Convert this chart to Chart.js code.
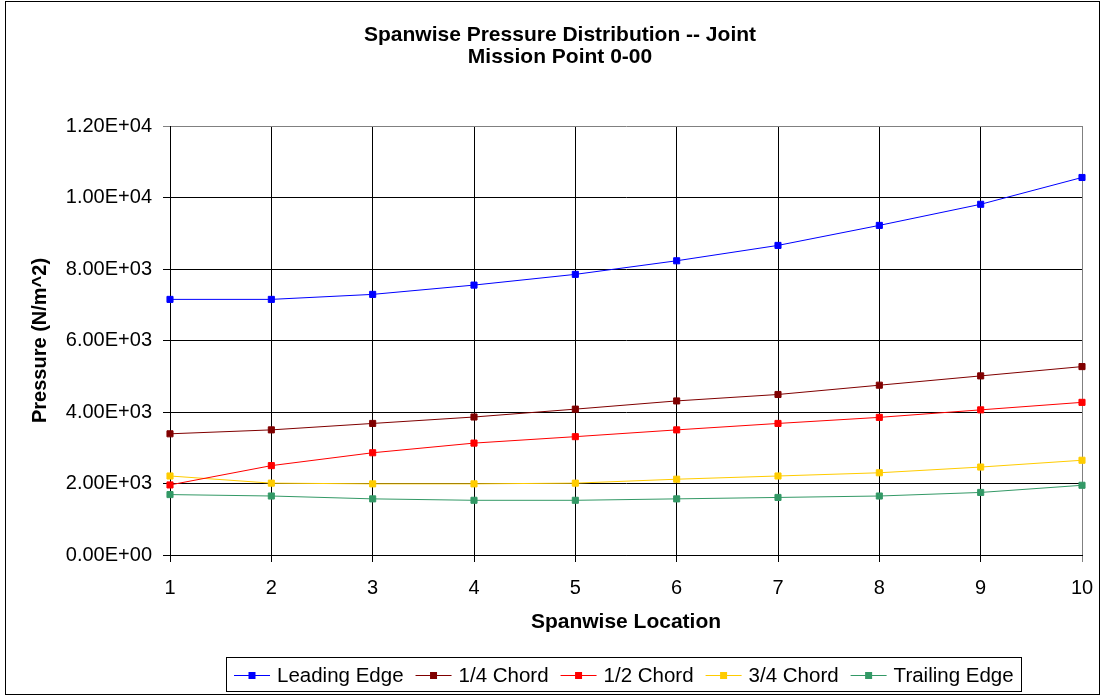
<!DOCTYPE html>
<html>
<head>
<meta charset="utf-8">
<title>Spanwise Pressure Distribution -- Joint</title>
<script src="https://cdn.jsdelivr.net/npm/chart.js@4.4.0/dist/chart.umd.min.js"></script>
<style>
    html, body { margin: 0; padding: 0; background: #fff; }
    canvas { display: block; }
</style>
</head>
<body>
<canvas id="pressureChart" width="1102" height="696"></canvas>
<script>
// spanwise stations (x axis)
var spanLocations = [1, 2, 3, 4, 5, 6, 7, 8, 9, 10];

// pressure in N/m^2
var leadingEdge   = [7150, 7150, 7290, 7550, 7850, 8230, 8660, 9220, 9810, 10560];
var quarterChord  = [3390, 3500, 3680, 3860, 4080, 4310, 4490, 4750, 5010, 5270];
var halfChord     = [1960, 2500, 2860, 3130, 3310, 3500, 3680, 3850, 4060, 4270];
var threeQtrChord = [2210, 2010, 1990, 1990, 2010, 2120, 2210, 2300, 2460, 2650];
var trailingEdge  = [1690, 1650, 1570, 1530, 1530, 1570, 1610, 1650, 1750, 1950];

var seriesNames  = ["Leading Edge", "1/4 Chord", "1/2 Chord", "3/4 Chord", "Trailing Edge"];
var seriesColors = ["#0000FF", "#800000", "#FF0000", "#FFCC00", "#339966"];

var yTickValues = [0, 2000, 4000, 6000, 8000, 10000, 12000];

var titleLines = ["Spanwise Pressure Distribution -- Joint", "Mission Point 0-00"];

var fontFamily = '"Liberation Sans", Arial, Helvetica, sans-serif';
Chart.defaults.font.family = fontFamily;
Chart.defaults.color = "#000";

// 12000 -> "1.20E+04"
function excelExp(value) {
    var parts = Number(value).toExponential(2).split("e");
    var sign = parts[1].charAt(0);
    var digits = parts[1].slice(1);
    if (digits.length < 2) digits = "0" + digits;
    return parts[0] + "E" + sign + digits;
}

function makeDataset(name, values, color) {
    return {
        label: name,
        data: values,
        borderColor: color,
        backgroundColor: color,
        borderWidth: 1,
        pointStyle: "rect",
        pointRadius: 4.3,
        pointBorderWidth: 1,
        pointBorderColor: color,
        pointBackgroundColor: color,
        tension: 0,
        fill: false
    };
}

// two line title, centred a bit right of the canvas middle like the original
var titlePlugin = {
    id: "twoLineTitle",
    afterDraw: function(chart) {
        var ctx = chart.ctx;
        ctx.save();
        ctx.font = "bold 21px " + fontFamily;
        ctx.fillStyle = "#000";
        ctx.textAlign = "center";
        ctx.textBaseline = "middle";
        ctx.fillText(titleLines[0], 560, 35);
        ctx.fillText(titleLines[1], 560, 57);
        ctx.restore();
    }
};

// legend in a box with line + marker samples
var boxLegendPlugin = {
    id: "boxLegend",
    afterDraw: function(chart) {
        var ctx = chart.ctx;
        var datasets = chart.data.datasets;
        var lineLen = 36, textGap = 7, itemGap = 12, padL = 8, padR = 7;
        ctx.save();
        ctx.font = "20.5px " + fontFamily;
        var widths = datasets.map(function(ds) { return ctx.measureText(ds.label).width; });
        var total = padL + padR;
        widths.forEach(function(w, i) {
            total += lineLen + textGap + w + (i < widths.length - 1 ? itemGap : 0);
        });
        var left = Math.round(623.5 - total / 2);
        var top = 657, bottom = 691, midY = 675;

        ctx.strokeStyle = "#000";
        ctx.lineWidth = 1;
        ctx.strokeRect(left + 0.5, top + 0.5, Math.round(total), bottom - top);

        var x = left + padL;
        datasets.forEach(function(ds, i) {
            ctx.strokeStyle = ds.borderColor;
            ctx.beginPath();
            ctx.moveTo(x, midY + 0.5);
            ctx.lineTo(x + lineLen, midY + 0.5);
            ctx.stroke();
            ctx.fillStyle = ds.borderColor;
            ctx.fillRect(x + lineLen / 2 - 3.5, midY - 3, 7, 7);
            ctx.fillStyle = "#000";
            ctx.textBaseline = "middle";
            ctx.textAlign = "left";
            ctx.fillText(ds.label, x + lineLen + textGap, midY + 1);
            x += lineLen + textGap + widths[i] + itemGap;
        });
        ctx.restore();
    }
};

var framePlugin = {
    id: "frame",
    beforeDraw: function(chart) {
        var ctx = chart.ctx;
        ctx.save();
        ctx.fillStyle = "#fff";
        ctx.fillRect(0, 0, chart.width, chart.height);
        ctx.restore();
    },
    afterDraw: function(chart) {
        var ctx = chart.ctx;
        ctx.save();
        ctx.strokeStyle = "#000";
        ctx.lineWidth = 1;
        ctx.strokeRect(5.5, 1.5, 1094, 693);
        ctx.restore();
    }
};

var chartData = {
    labels: spanLocations,
    datasets: [
        makeDataset(seriesNames[0], leadingEdge, seriesColors[0]),
        makeDataset(seriesNames[1], quarterChord, seriesColors[1]),
        makeDataset(seriesNames[2], halfChord, seriesColors[2]),
        makeDataset(seriesNames[3], threeQtrChord, seriesColors[3]),
        makeDataset(seriesNames[4], trailingEdge, seriesColors[4])
    ]
};

var chartOptions = {
    responsive: false,
    animation: false,
    layout: {
        padding: { top: 126, left: 0, right: 20, bottom: 51 }
    },
    plugins: {
        legend: { display: false },
        tooltip: { enabled: false },
        title: { display: false }
    },
    scales: {
        x: {
            type: "category",
            offset: false,
            afterFit: function(scale) {
                scale.height = 90;
                // the layout padding already leaves room for the "10" label
                scale.paddingLeft = 0;
                scale.paddingRight = 0;
            },
            grid: {
                color: function(c) { return c.index === spanLocations.length - 1 ? "#808080" : "#000"; },
                lineWidth: 1,
                drawTicks: true,
                tickLength: 7
            },
            border: { display: true, color: "#000", width: 1 },
            ticks: {
                color: "#000",
                font: { size: 20 },
                padding: 14,
                maxRotation: 0,
                autoSkip: false
            },
            title: {
                display: true,
                text: "Spanwise Location",
                color: "#000",
                font: { size: 21, weight: "bold" },
                padding: { top: 0, bottom: 10 }
            }
        },
        y: {
            min: 0,
            max: 12000,
            afterFit: function(scale) { scale.width = 170; },
            afterBuildTicks: function(scale) {
                scale.ticks = yTickValues.map(function(v) { return { value: v }; });
            },
            grid: {
                color: function(c) { return c.index === yTickValues.length - 1 ? "#808080" : "#000"; },
                lineWidth: 1,
                drawTicks: true,
                tickLength: 7
            },
            border: { display: true, color: "#000", width: 1 },
            ticks: {
                color: "#000",
                font: { size: 20 },
                padding: 11,
                callback: function(value) { return excelExp(value); }
            },
            title: {
                display: true,
                text: "Pressure (N/m^2)",
                color: "#000",
                font: { size: 20, weight: "bold" },
                padding: { top: 28, bottom: 0 }
            }
        }
    }
};

var pressureChart = new Chart(document.getElementById("pressureChart").getContext("2d"), {
    type: "line",
    data: chartData,
    options: chartOptions,
    plugins: [framePlugin, titlePlugin, boxLegendPlugin]
});
</script>
</body>
</html>
